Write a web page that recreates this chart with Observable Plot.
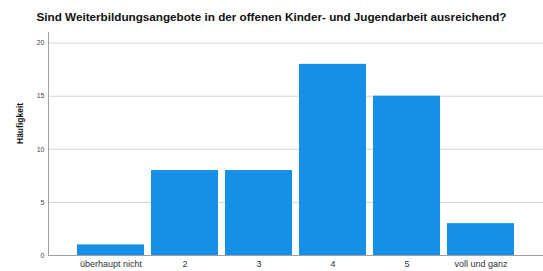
<!DOCTYPE html>
<html><head><meta charset="utf-8">
<script src="https://cdn.jsdelivr.net/npm/d3@7"></script>
<script src="https://cdn.jsdelivr.net/npm/@observablehq/plot@0.6"></script>
<style>
body{margin:0;background:#fff;font-family:"Liberation Sans",Arial,sans-serif;}
#title{height:30px;width:543px;text-align:center;font-weight:bold;font-size:11.7px;line-height:34px;color:#111;white-space:nowrap;}
</style></head><body>
<div id="title">Sind Weiterbildungsangebote in der offenen Kinder- und Jugendarbeit ausreichend?</div>
<div id="chart"></div>
<script>
const categories = ["überhaupt nicht", "2", "3", "4", "5", "voll und ganz"];
const counts = [1, 8, 8, 18, 15, 3];
const yTicks = [0, 5, 10, 15, 20];
const yLabel = "Häufigkeit";

const data = categories.map((c, i) => ({category: c, count: counts[i]}));

const chart = Plot.plot({
  width: 543,
  height: 241,
  marginLeft: 48,
  marginRight: 0,
  marginTop: 2,
  marginBottom: 16,
  style: {fontFamily: "Liberation Sans, Arial, sans-serif", background: "#fff"},
  x: {domain: categories, paddingInner: 0.1, paddingOuter: 0.39, label: null, tickSize: 0, tickPadding: 5},
  y: {domain: [0, 21], label: null, ticks: yTicks, tickSize: 0, tickPadding: 4},
  marks: [
    Plot.gridY(yTicks.filter(d => d > 0), {stroke: "#d4d4d4", strokeOpacity: 1}),
    Plot.barY(data, {x: "category", y: "count", fill: "#1690e6"}),
    Plot.ruleY([0], {stroke: "#a0a0a0", strokeWidth: 1}),
    Plot.frame({anchor: "left", stroke: "#a0a0a0"}),
    Plot.axisY({ticks: yTicks, tickSize: 0, tickPadding: 4, fontSize: 7, fill: "#444", label: null}),
    Plot.axisX({tickSize: 0, tickPadding: 5, fontSize: 9, fill: "#333", label: null}),
    Plot.text([yLabel], {frameAnchor: "left", dx: -28, rotate: -90, fontSize: 8.5, fontWeight: "bold", fill: "#111"})
  ]
});
document.getElementById("chart").append(chart);
</script>
</body></html>
